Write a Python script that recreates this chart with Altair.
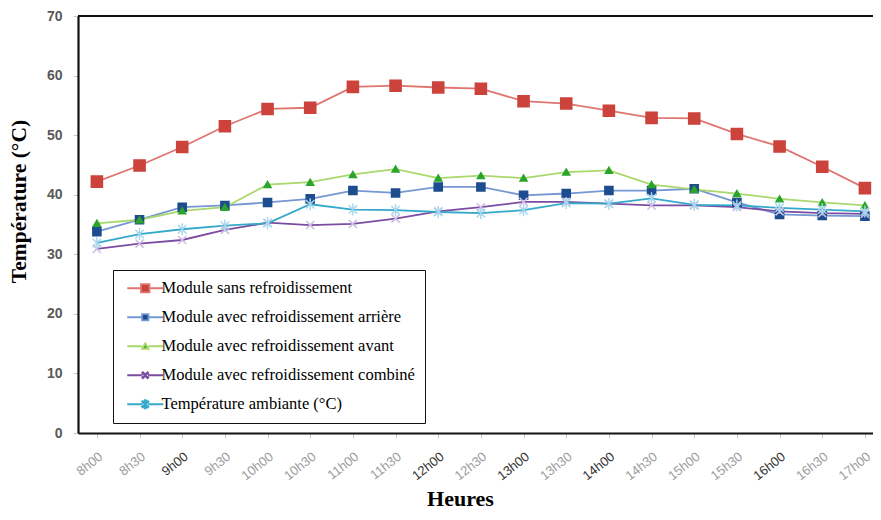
import math
import altair as alt
import pandas as pd

# ---------------- data ----------------
heures = ["8h00", "8h30", "9h00", "9h30", "10h00", "10h30", "11h00", "11h30", "12h00",
          "12h30", "13h00", "13h30", "14h00", "14h30", "15h00", "15h30", "16h00", "16h30", "17h00"]
series = ["Module sans refroidissement",
          "Module avec refroidissement arrière",
          "Module avec refroidissement avant",
          "Module avec refroidissement combiné",
          "Température ambiante (°C)"]
sans = [42.2, 44.9, 48.0, 51.5, 54.4, 54.6, 58.1, 58.3, 58.0, 57.8, 55.7, 55.3, 54.1, 52.9, 52.8, 50.2, 48.1, 44.7, 41.1]
arriere = [33.8, 35.8, 37.9, 38.2, 38.7, 39.3, 40.7, 40.3, 41.3, 41.3, 39.9, 40.2, 40.7, 40.7, 41.0, 38.7, 36.7, 36.5, 36.4]
avant = [35.2, 35.8, 37.3, 37.9, 41.7, 42.1, 43.4, 44.3, 42.8, 43.2, 42.8, 43.8, 44.1, 41.7, 40.9, 40.2, 39.3, 38.7, 38.2]
combine = [30.9, 31.8, 32.4, 34.1, 35.3, 34.9, 35.1, 36.0, 37.2, 37.9, 38.8, 38.8, 38.5, 38.2, 38.2, 37.9, 37.2, 36.9, 36.8]
ambiante = [31.9, 33.4, 34.2, 34.8, 35.2, 38.4, 37.5, 37.4, 37.1, 36.9, 37.4, 38.6, 38.5, 39.4, 38.3, 38.2, 37.8, 37.5, 37.2]
y_ticks = [0, 10, 20, 30, 40, 50, 60, 70]
dark_labels = ["9h00", "12h00", "13h00", "14h00", "16h00"]

values = [sans, arriere, avant, combine, ambiante]
rows = []
for name, vals in zip(series, values):
    for h, v in zip(heures, vals):
        rows.append({"heure": h, "temp": v, "series": name})
df = pd.DataFrame(rows)

# ---------------- styles ----------------
fill_colors = ["#cc433c", "#1d4c8f", "#2aa52a", "#cdbde4", "#a6d6ee"]
line_colors = ["#df756f", "#7597d2", "#a9d86d", "#7b4ca2", "#35a9cc"]
line_widths = [1.8, 1.8, 1.8, 3.0, 3.0]


def bar(angle, half_len, half_w):
    a = math.radians(angle)
    c, s = math.cos(a), math.sin(a)
    pts = [(-half_len, -half_w), (half_len, -half_w), (half_len, half_w), (-half_len, half_w)]
    rp = [(x * c - y * s, x * s + y * c) for x, y in pts]
    return "M" + "L".join(f"{x:.3f},{y:.3f}" for x, y in rp) + "Z"


def seg(gap):
    return f"M-4.5,0H-{gap}M{gap},0H4.5"


shapes = [
    "M-1.05,-1.05H1.05V1.05H-1.05Z" + seg(1.05),
    "M-0.8,-0.8H0.8V0.8H-0.8Z" + seg(0.8),
    "M0,-0.75L0.8,0.62L-0.8,0.62Z" + seg(0.8),
    bar(45, 0.95, 0.13) + bar(-45, 0.95, 0.13) + seg(0.7),
    bar(45, 1.0, 0.12) + bar(-45, 1.0, 0.12) + bar(90, 1.0, 0.12) + seg(0.7),
]

legend_style = dict(
    labelFont="Liberation Serif", labelFontSize=16.5, labelColor="black", labelLimit=400,
    symbolSize=64, symbolStrokeWidth=2, symbolOffset=14, labelOffset=8,
    rowPadding=12, symbolOpacity=1, padding=10, strokeColor="#111111", fillColor="white",
)
legend = alt.Legend(orient="none", legendX=35, legendY=254, title=None, **legend_style)

x_enc = alt.X(
    "heure:N", sort=heures,
    scale=alt.Scale(domain=heures, padding=0.316, align=0.70),
    axis=alt.Axis(
        title="Heures", titleFont="Liberation Serif", titleFontSize=22, titleFontWeight="bold",
        titleColor="black", titleX=382, titleY=72, titleBaseline="alphabetic",
        labelAngle=-38, labelFont="Liberation Sans", labelFontSize=13,
        labelColor={"condition": {"test": "indexof(" + str(dark_labels) + ", datum.label) >= 0",
                                  "value": "#333333"}, "value": "#9c9c9c"},
        labelPadding=12, tickColor="#c8c8c8", tickSize=5, tickWidth=1,
        domainColor="#111111", domainWidth=2.2, grid=False,
    ),
)
y_enc = alt.Y(
    "temp:Q",
    scale=alt.Scale(domain=[0, 70], nice=False),
    axis=alt.Axis(
        title="Température (°C)", titleFont="Liberation Serif", titleFontSize=21.5,
        titleFontWeight="bold", titleColor="black", titlePadding=16, titleY=185,
        values=y_ticks, labelFont="Liberation Sans", labelFontSize=14, labelFontWeight="bold",
        labelColor="#595959", labelPadding=11, tickColor="#c8c8c8", tickSize=5, tickWidth=1,
        domainColor="#111111", domainWidth=2.2, grid=False,
    ),
)

lines = alt.Chart(df).mark_line().encode(
    x=x_enc, y=y_enc,
    stroke=alt.Stroke("series:N", scale=alt.Scale(domain=series, range=line_colors), legend=legend),
    strokeWidth=alt.StrokeWidth("series:N", scale=alt.Scale(domain=series, range=line_widths), legend=legend),
)

points = alt.Chart(df).mark_point(filled=True, opacity=1, size=144, clip=True).encode(
    x=x_enc, y=y_enc,
    color=alt.Color("series:N", scale=alt.Scale(domain=series, range=fill_colors), legend=legend),
    stroke=alt.Stroke("series:N", scale=alt.Scale(domain=series, range=line_colors), legend=legend),
    shape=alt.Shape("series:N", scale=alt.Scale(domain=series, range=shapes), legend=legend),
    strokeWidth=alt.value(0),
)

top = alt.Chart(pd.DataFrame({"v": [70]})).mark_rule(color="#111111", strokeWidth=2.2).encode(
    y=alt.Y("v:Q")
)

chart = alt.layer(lines, points, top).properties(
    width=795, height=417,
    autosize=alt.AutoSizeParams(type="none"),
    padding={"left": 70, "top": 8, "right": 0, "bottom": 79},
).configure_view(stroke=None).configure_legend(
    strokeWidth=2.5, **legend_style
).configure(background="white")

chart.save("out.html", embed_options={"renderer": "svg", "actions": False})
